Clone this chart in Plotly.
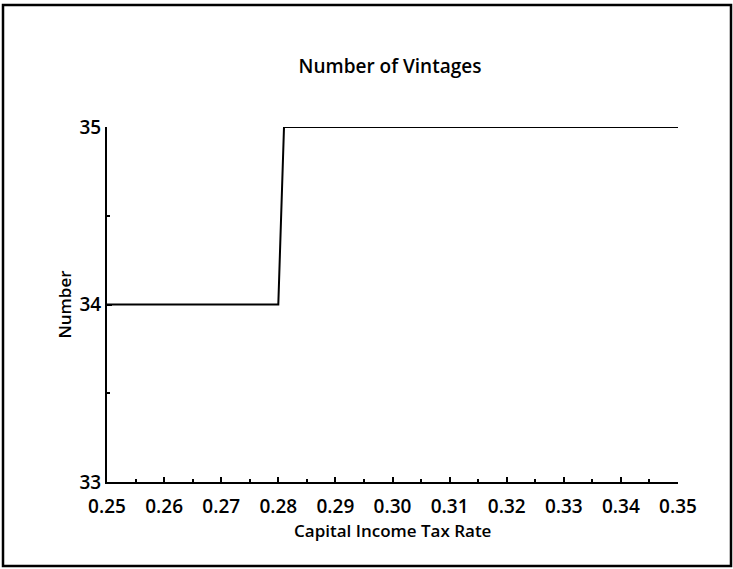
import plotly.graph_objects as go

# Data
tax_rate = [0.25, 0.26, 0.27, 0.28, 0.281, 0.29, 0.30, 0.31, 0.32, 0.33, 0.34, 0.35]
vintages = [34, 34, 34, 34, 35, 35, 35, 35, 35, 35, 35, 35]
x_ticks = [0.25, 0.26, 0.27, 0.28, 0.29, 0.30, 0.31, 0.32, 0.33, 0.34, 0.35]
x_labels = ["0.25", "0.26", "0.27", "0.28", "0.29", "0.30", "0.31", "0.32", "0.33", "0.34", "0.35"]
y_ticks = [33, 34, 35]
y_labels = ["33", "34", "35"]

W, H = 733, 569
L, R, T, B = 107, 55, 127, 87
FONT = "Open Sans"

fig = go.Figure()
fig.add_trace(go.Scatter(x=tax_rate, y=vintages, mode="lines",
                         line=dict(color="black", width=2), showlegend=False,
                         hoverinfo="skip"))

def px_x(p):
    return (p - L) / (W - L - R)

def px_y(p):
    return 1 - (p - T) / (H - T - B)

fig.add_shape(type="rect", xref="paper", yref="paper",
              x0=px_x(3), x1=px_x(731), y0=px_y(566), y1=px_y(5),
              line=dict(color="black", width=2.5), fillcolor="rgba(0,0,0,0)")

fnt = lambda s: dict(family=FONT, size=s, color="black", weight=600)

# x-axis title placed as text just under the tick labels
fig.add_annotation(text="Capital Income Tax Rate", xref="paper", yref="paper",
                   x=0.5, y=px_y(530), xanchor="center", yanchor="middle",
                   showarrow=False, font=fnt(17))

fig.update_layout(
    width=W, height=H,
    margin=dict(l=L, r=R, t=T, b=B, pad=0),
    paper_bgcolor="white", plot_bgcolor="white",
    font=fnt(19),
    title=dict(text="Number of Vintages", x=390 / W, xref="container", xanchor="center",
               y=1 - 66 / H, yref="container", yanchor="middle", font=fnt(19)),
    xaxis=dict(range=[0.25, 0.35], tickvals=x_ticks, ticktext=x_labels,
               showgrid=False, zeroline=False, showline=True, linecolor="black", linewidth=2,
               ticks="inside", ticklen=5, tickwidth=1.5, tickcolor="black",
               ticklabelstandoff=6,
               minor=dict(dtick=0.005, tick0=0.25, ticks="inside", ticklen=3, tickwidth=1.5, tickcolor="black"),
               tickfont=fnt(19)),
    yaxis=dict(range=[33, 35], tickvals=y_ticks, ticktext=y_labels,
               showgrid=False, zeroline=False, showline=True, linecolor="black", linewidth=2,
               ticks="inside", ticklen=5, tickwidth=1.5, tickcolor="black",
               minor=dict(dtick=0.5, tick0=33, ticks="inside", ticklen=3, tickwidth=1.5, tickcolor="black"),
               tickfont=fnt(19),
               title=dict(text="Number", standoff=4, font=fnt(17))),
)

fig.write_html("out.html", config={"displayModeBar": False},
               post_script="document.body.style.margin='0';document.body.style.padding='0';")
